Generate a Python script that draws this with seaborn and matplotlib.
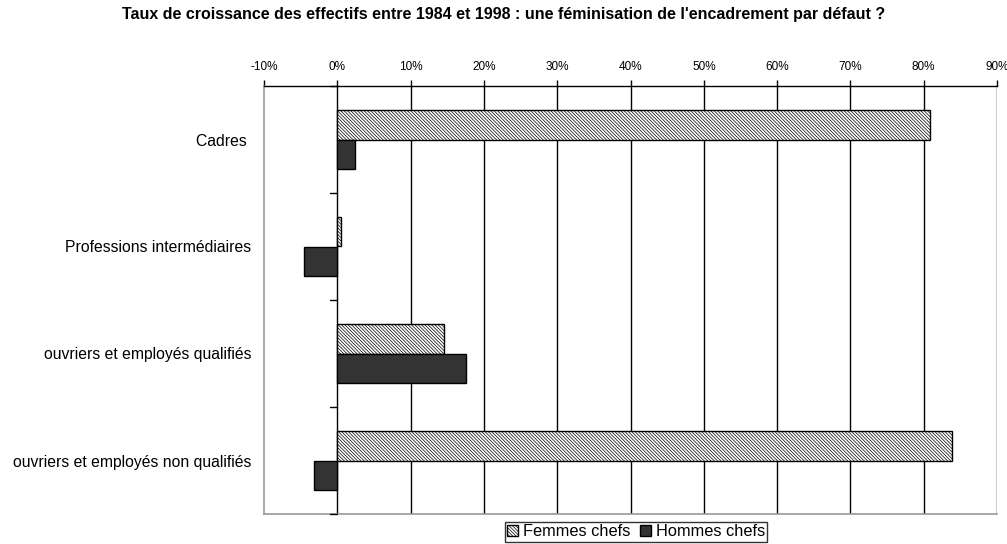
import pandas as pd
import numpy as np
import matplotlib
matplotlib.use("Agg")
import matplotlib.pyplot as plt
import seaborn as sns
from matplotlib.ticker import MultipleLocator, FuncFormatter

# Data
categories = ["Cadres ", "Professions intermédiaires", "ouvriers et employés qualifiés",
              "ouvriers et employés non qualifiés"]
femmes = [80.9, 0.5, 14.6, 83.9]
hommes = [2.45, -4.6, 17.6, -3.2]
series = ["Femmes chefs", "Hommes chefs"]

df = pd.DataFrame({
    "categorie": categories * 2,
    "serie": [series[0]] * 4 + [series[1]] * 4,
    "taux": femmes + hommes,
})

sns.set_style("white")
plt.rcParams["font.family"] = ["Liberation Sans", "DejaVu Sans"]
plt.rcParams["hatch.linewidth"] = 0.5
plt.rcParams["hatch.color"] = "#444444"
plt.rcParams["text.color"] = "black"
plt.rcParams["xtick.color"] = "black"
plt.rcParams["ytick.color"] = "black"

HATCH = "\\" * 10

fig = plt.figure(figsize=(10.07, 5.44), dpi=100)
ax = fig.add_axes([264 / 1007, 1 - 514 / 544, 733 / 1007, 428 / 544])

sns.barplot(data=df, x="taux", y="categorie", hue="serie", orient="h",
            palette=["white", "#333333"], width=0.56, edgecolor="black",
            linewidth=1.0, ax=ax, legend=True)

# hatch the "Femmes" bars
for bar in ax.containers[0]:
    bar.set_hatch(HATCH)

ax.set_xlim(-10, 90)
ax.set_ylim(3.5, -0.5)
ax.xaxis.set_major_locator(MultipleLocator(10))
ax.xaxis.set_major_formatter(FuncFormatter(lambda v, p: f"{v:.0f}%"))
ax.xaxis.tick_top()
ax.tick_params(axis="x", which="major", direction="out", length=4, width=1,
               labelsize=8.5, pad=5, top=True, bottom=False, color="black",
               labelcolor="black")
ax.set_xlabel("")
ax.set_ylabel("")

ax.set_yticks(np.arange(len(categories)))
ax.tick_params(axis="y", which="major", length=0, labelsize=11.3, pad=9,
               labelcolor="black")

# vertical gridlines
for v in range(0, 100, 10):
    ax.axvline(v, color="black", lw=1, zorder=0)
ax.grid(False)

for side in ["left", "bottom"]:
    ax.spines[side].set_color("#999999")
    ax.spines[side].set_linewidth(1.2)
ax.spines["top"].set_color("black")
ax.spines["top"].set_linewidth(1)
ax.spines["right"].set_visible(False)

# category separators drawn on the 0% line
for y in np.arange(len(categories) + 1) - 0.5:
    ax.plot([-1.0, 0], [y, y], color="black", lw=1, clip_on=False, zorder=3)

leg = ax.legend(loc="upper center", bbox_to_anchor=(636 / 1007, 22 / 544),
                bbox_transform=fig.transFigure, ncol=2, frameon=True,
                fancybox=False, edgecolor="black", fontsize=11.8,
                handlelength=0.65, handleheight=0.65, handletextpad=0.3,
                columnspacing=0.6, borderpad=0.15, borderaxespad=0)
leg.get_frame().set_linewidth(1)
leg.legend_handles[0].set_hatch(HATCH)

fig.suptitle("Taux de croissance des effectifs entre 1984 et 1998 : une féminisation de l'encadrement par défaut ?",
             y=1 - 14 / 544, va="center", fontsize=11.5, fontweight="bold")

fig.savefig("out.png", dpi=100)
